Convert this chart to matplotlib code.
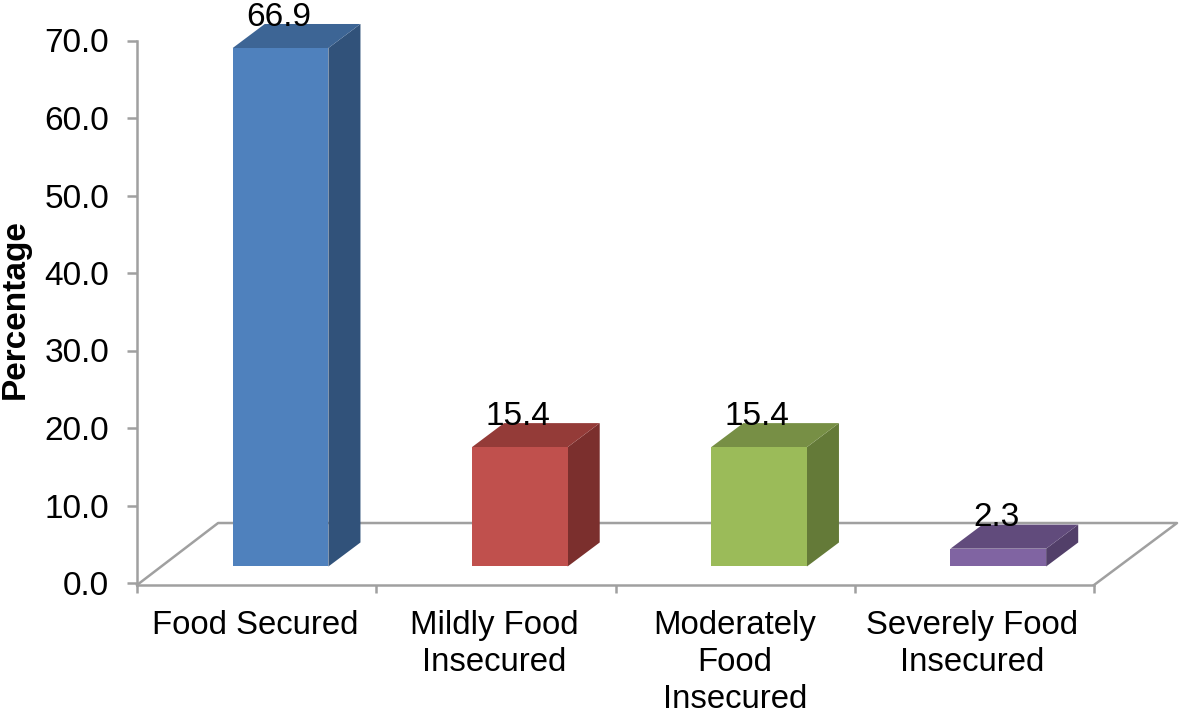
from matplotlib import pyplot as plt
from matplotlib.patches import Polygon

categories = ["Food Secured", "Mildly Food\nInsecured", "Moderately\nFood\nInsecured", "Severely Food\nInsecured"]
values = [66.9, 15.4, 15.4, 2.3]
value_labels = ["66.9", "15.4", "15.4", "2.3"]
yticks = [0, 10, 20, 30, 40, 50, 60, 70]

front_colors = ["#4F81BD", "#C0504D", "#9BBB59", "#8064A2"]
side_colors = ["#31527A", "#7B2F2D", "#647A38", "#523F69"]
top_colors = ["#3D6595", "#943B38", "#778F45", "#614B7C"]

GREY = "#A0A0A0"
NUM_FONT = 24
CAT_FONT = 23.7
LW = 1.8
W, H = 1181, 715

# 3d look, in data units
BAR_LEFT = 0.4
BAR_W = 0.4
BAR_BASE = 2.13
DX = 0.134
DY = 3.1
FLOOR_Y = -0.26
FLOOR_DX = 0.339
FLOOR_DY = 8.0
FLOOR_RIGHT = 4.347

plt.rcParams["font.family"] = ["Liberation Sans", "DejaVu Sans"]

fig = plt.figure(figsize=(W / 100, H / 100), dpi=100)
ax = fig.add_axes([137 / W, 1 - 583 / H, (1094 - 137) / W, (583 - 40.5) / H])
ax.set_xlim(0, 4)
ax.set_ylim(0, 70)

for name in ["top", "right"]:
    ax.spines[name].set_visible(False)
for name in ["left", "bottom"]:
    ax.spines[name].set_color(GREY)
    ax.spines[name].set_linewidth(LW)
ax.spines["bottom"].set_position(("data", FLOOR_Y))
ax.spines["left"].set_bounds(FLOOR_Y, 70)

ax.set_yticks(yticks)
ax.set_yticklabels([f"{t:.1f}" for t in yticks], fontsize=NUM_FONT, color="black")
ax.tick_params(axis="y", length=7.2, width=LW, color=GREY, pad=13)

ax.set_xticks([0, 1, 2, 3, 4])
ax.set_xticklabels([])
ax.tick_params(axis="x", which="major", length=5.8, width=LW, color=GREY)
ax.set_xticks([0.495, 1.495, 2.5, 3.49], minor=True)
ax.set_xticklabels(categories, minor=True, fontsize=CAT_FONT, color="black", linespacing=1.24)
ax.tick_params(axis="x", which="minor", length=0, pad=18.2)

fig.text(15 / W, 1 - 309 / H, "Percentage", rotation=90, fontsize=NUM_FONT, fontweight="bold",
         ha="center", va="center", color="black")

# floor outline
ax.plot([0, FLOOR_DX, FLOOR_RIGHT, 4], [FLOOR_Y, FLOOR_Y + FLOOR_DY, FLOOR_Y + FLOOR_DY, FLOOR_Y],
        color=GREY, lw=LW, clip_on=False, zorder=2)

for i, val in enumerate(values):
    x0 = i + BAR_LEFT
    x1 = x0 + BAR_W
    y0 = BAR_BASE
    y1 = BAR_BASE + val
    front = [(x0, y0), (x1, y0), (x1, y1), (x0, y1)]
    side = [(x1, y0), (x1 + DX, y0 + DY), (x1 + DX, y1 + DY), (x1, y1)]
    top = [(x0, y1), (x1, y1), (x1 + DX, y1 + DY), (x0 + DX, y1 + DY)]
    ax.add_patch(Polygon(side, facecolor=side_colors[i], edgecolor="none", clip_on=False, zorder=3))
    ax.add_patch(Polygon(top, facecolor=top_colors[i], edgecolor="none", clip_on=False, zorder=3))
    ax.add_patch(Polygon(front, facecolor=front_colors[i], edgecolor="none", clip_on=False, zorder=4))
    ax.annotate(value_labels[i], (x0 + BAR_W / 2 - 0.008, y1), xytext=(0, 11), textcoords="offset points",
                ha="center", va="bottom", fontsize=NUM_FONT, color="black",
                annotation_clip=False, zorder=5)

plt.savefig("out.png", dpi=100)
